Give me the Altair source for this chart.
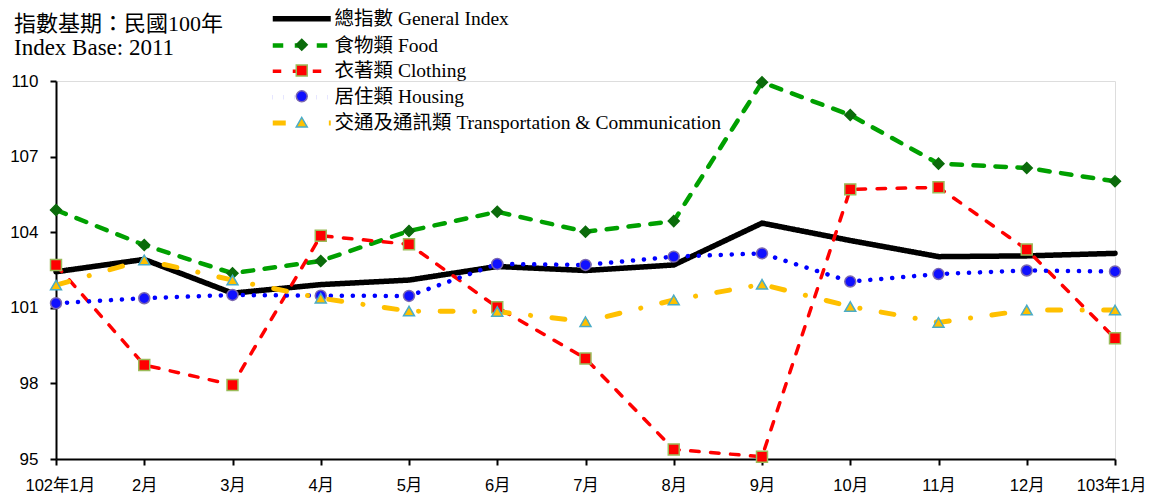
import altair as alt
import pandas as pd

months = ["102年1月", "2月", "3月", "4月", "5月", "6月", "7月", "8月", "9月",
          "10月", "11月", "12月", "103年1月"]
series_names = ["總指數 General Index", "食物類 Food", "衣著類 Clothing",
                "居住類 Housing", "交通及通訊類 Transportation & Communication"]

general = [102.43, 102.92, 101.58, 101.92, 102.10, 102.64, 102.48, 102.70, 104.36,
           103.67, 103.03, 103.06, 103.16]
food = [104.88, 103.49, 102.37, 102.86, 104.05, 104.81, 104.02, 104.44, 109.95,
        108.65, 106.72, 106.55, 106.02]
clothing = [102.70, 98.73, 97.94, 103.86, 103.52, 101.02, 98.99, 95.38, 95.09,
            105.70, 105.78, 103.31, 99.79]
housing = [101.18, 101.38, 101.51, 101.48, 101.47, 102.74, 102.70, 103.03, 103.16,
           102.04, 102.34, 102.48, 102.44]
transport = [101.90, 102.90, 102.10, 101.38, 100.87, 100.85, 100.45, 101.31, 101.93,
             101.05, 100.42, 100.91, 100.91]
y_ticks = [95, 98, 101, 104, 107, 110]
notes = ["指數基期：民國100年", "Index Base: 2011"]

line_colors = ["#000000", "#00a000", "#ff0000", "#0000ff", "#ffc000"]
line_dash = [[1, 0], [10.5, 11.5], [8.5, 11.5], [0.1, 10.9], [13, 21.5, 0.1, 21.5]]
line_widths = [5.5, 4.5, 3.5, 4.5, 5]
marker_shapes = ["diamond", "square", "circle", "triangle-up"]
marker_fill = ["#0b6b0b", "#ff0000", "#1010ff", "#ffc000"]
marker_stroke = ["#0b6b0b", "#9bbb59", "#7b68b0", "#4bacc6"]

rows = []
for name, vals in zip(series_names, [general, food, clothing, housing, transport]):
    for m, v in zip(months, vals):
        rows.append({"month": m, "series": name, "series2": name, "value": v})
df = pd.DataFrame(rows)
df_pts = df[df["series"] != series_names[0]]

LABEL_FONT = "Liberation Sans, Noto Sans CJK TC, sans-serif"
SERIF_FONT = "Liberation Serif, Noto Sans CJK TC, serif"

x_enc = alt.X("month:N", sort=months,
              scale=alt.Scale(type="point", padding=0),
              axis=alt.Axis(title=None, labelAngle=0, labelFontSize=16.5, labelFont=LABEL_FONT,
                            labelColor="#000", labelPadding=12, tickSize=6,
                            labelFlush=True, labelFlushOffset=31,
                            tickColor="#000", tickWidth=2, domainColor="#000", domainWidth=2,
                            grid=False))
y_enc = alt.Y("value:Q", scale=alt.Scale(domain=[95, 110], nice=False, zero=False),
              axis=alt.Axis(title=None, values=y_ticks, labelFontSize=17, labelFont=LABEL_FONT,
                            labelColor="#000", labelPadding=12, tickSize=6, tickColor="#000",
                            tickWidth=2, domainColor="#000", domainWidth=2, grid=False))

legA = alt.Legend(orient="none", legendX=236, legendY=-72, title=None,
                  symbolType="M-5.8,0L5.8,0", symbolSize=100,
                  labelFontSize=19.5, labelFont=SERIF_FONT, labelColor="#000",
                  labelOffset=23, rowPadding=4.8, padding=0, labelLimit=0)
legB = alt.Legend(orient="none", legendX=236, legendY=-46, title=None,
                  symbolSize=120, symbolStrokeWidth=1.5, labelFontSize=19.5, labelFont=SERIF_FONT,
                  labelOpacity=0, labelOffset=23, rowPadding=4.8, padding=0, labelLimit=0)

lines = alt.Chart(df).mark_line(strokeCap="round", strokeJoin="miter").encode(
    x=x_enc, y=y_enc,
    color=alt.Color("series:N", sort=series_names,
                    scale=alt.Scale(domain=series_names, range=line_colors), legend=legA),
    strokeDash=alt.StrokeDash("series:N", sort=series_names,
                              scale=alt.Scale(domain=series_names, range=line_dash), legend=legA),
    strokeWidth=alt.StrokeWidth("series:N", sort=series_names,
                                scale=alt.Scale(type="ordinal", domain=series_names, range=line_widths),
                                legend=legA),
)

pts = alt.Chart(df_pts).mark_point(filled=True, size=120, strokeWidth=1.5, opacity=1).encode(
    x=x_enc, y=y_enc,
    fill=alt.Fill("series2:N", scale=alt.Scale(domain=series_names[1:], range=marker_fill), legend=legB),
    stroke=alt.Stroke("series2:N", scale=alt.Scale(domain=series_names[1:], range=marker_stroke), legend=legB),
    shape=alt.Shape("series2:N", scale=alt.Scale(domain=series_names[1:], range=marker_shapes), legend=legB),
)

note1 = alt.Chart(pd.DataFrame({"t": [notes[0]]})).mark_text(
    align="left", baseline="alphabetic", fontSize=22, font=SERIF_FONT, color="#000"
).encode(text="t:N", x=alt.value(-42), y=alt.value(-50))
note2 = alt.Chart(pd.DataFrame({"t": [notes[1]]})).mark_text(
    align="left", baseline="alphabetic", fontSize=23, font=SERIF_FONT, color="#000"
).encode(text="t:N", x=alt.value(-42), y=alt.value(-26))

chart = alt.layer(lines, pts, note1, note2).properties(
    width=1059, height=378,
    autosize=alt.AutoSizeParams(type="none"),
    padding={"left": 48, "top": 73, "right": 31, "bottom": 36},
).configure_view(stroke=None).configure(background="white")

chart.save("out.html", embed_options={"renderer": "svg", "actions": False})
